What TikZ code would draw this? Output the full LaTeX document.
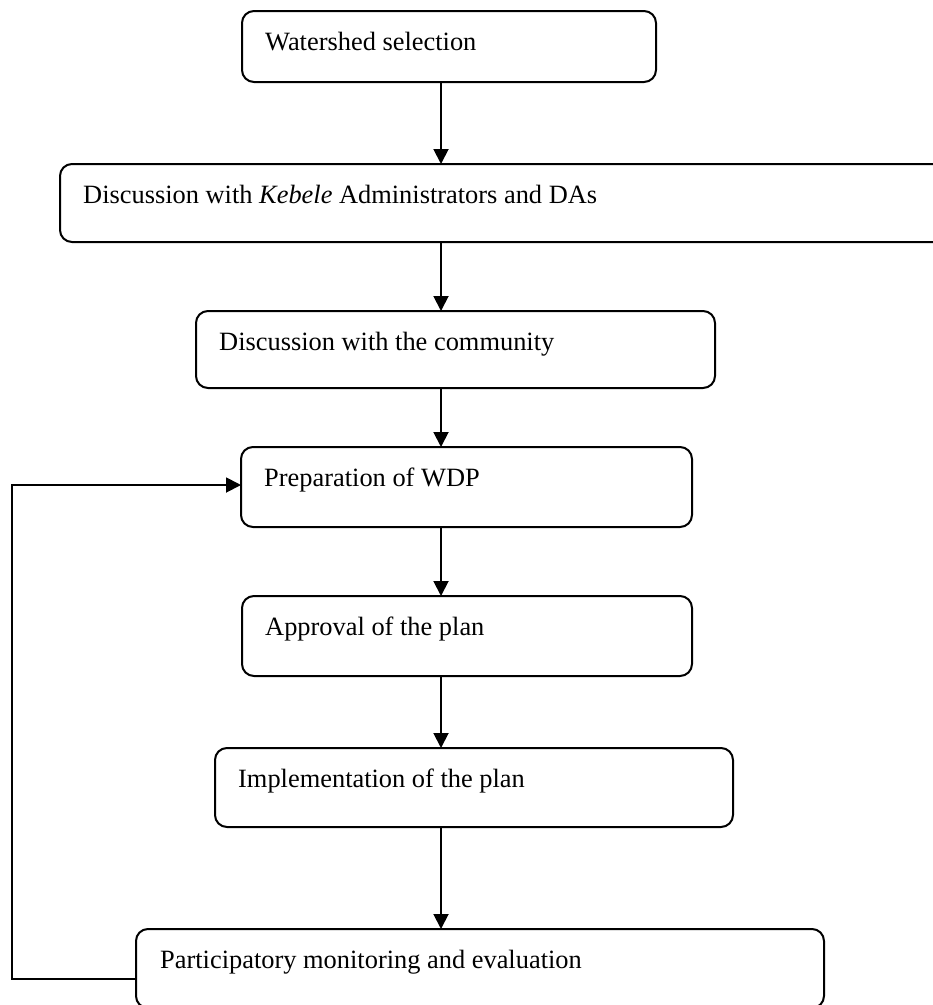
\documentclass[tikz,border=0pt]{standalone}
\usepackage{fontspec}
\setmainfont{Liberation Serif}
\usetikzlibrary{arrows.meta,calc}
\tikzset{
  stepbox/.style={draw=black, line width=2pt, rounded corners=12pt, inner sep=0pt, outer sep=0pt, anchor=north west},
  lbl/.style={anchor=base west, inner sep=0pt, font=\fontsize{26.4}{30}\selectfont},
  flow/.style={draw=black, line width=1.9pt, -{Triangle[length=15pt,width=15pt]}}
}
\begin{document}
\begin{tikzpicture}[x=1pt,y=-1pt]
\useasboundingbox (0,0) rectangle (933,1005);
\fill[white] (0,0) rectangle (933,1005);
\coordinate (ax) at (441,0);
% boxes
\node[stepbox, minimum width=414pt, minimum height=71pt] (b1) at (242,11) {};
\node[stepbox, minimum width=900pt, minimum height=78pt] (b2) at (60,164) {};
\node[stepbox, minimum width=519pt, minimum height=77pt] (b3) at (196,311) {};
\node[stepbox, minimum width=451pt, minimum height=80pt] (b4) at (241,447) {};
\node[stepbox, minimum width=450pt, minimum height=80pt] (b5) at (242,596) {};
\node[stepbox, minimum width=518pt, minimum height=79pt] (b6) at (215,748) {};
\node[stepbox, minimum width=688pt, minimum height=79pt] (b7) at (136,929) {};
% labels
\node[lbl] (t1) at ($(b1.north west)+(23,39)$) {Watershed selection};
\node[lbl] (t2) at ($(b2.north west)+(23,39)$) {Discussion with \textit{Kebele} Administrators and DAs};
\node[lbl] (t3) at ($(b3.north west)+(23,39)$) {Discussion with the community};
\node[lbl] (t4) at ($(b4.north west)+(23,39)$) {Preparation of WDP};
\node[lbl] (t5) at ($(b5.north west)+(23,39)$) {Approval of the plan};
\node[lbl] (t6) at ($(b6.north west)+(23,39)$) {Implementation of the plan};
\node[lbl] (t7) at ($(b7.north west)+(24,39)$) {Participatory monitoring and evaluation};
% connectors
\draw[flow] (b1.south -| ax) -- (b2.north -| ax);
\draw[flow] (b2.south -| ax) -- (b3.north -| ax);
\draw[flow] (b3.south -| ax) -- (b4.north -| ax);
\draw[flow] (b4.south -| ax) -- (b5.north -| ax);
\draw[flow] (b5.south -| ax) -- (b6.north -| ax);
\draw[flow] (b6.south -| ax) -- (b7.north -| ax);
\draw[flow] ($(b7.north west)+(0,50)$) -- ++(-124,0) |- ($(b4.north west)+(0,38)$);
\end{tikzpicture}
\end{document}
